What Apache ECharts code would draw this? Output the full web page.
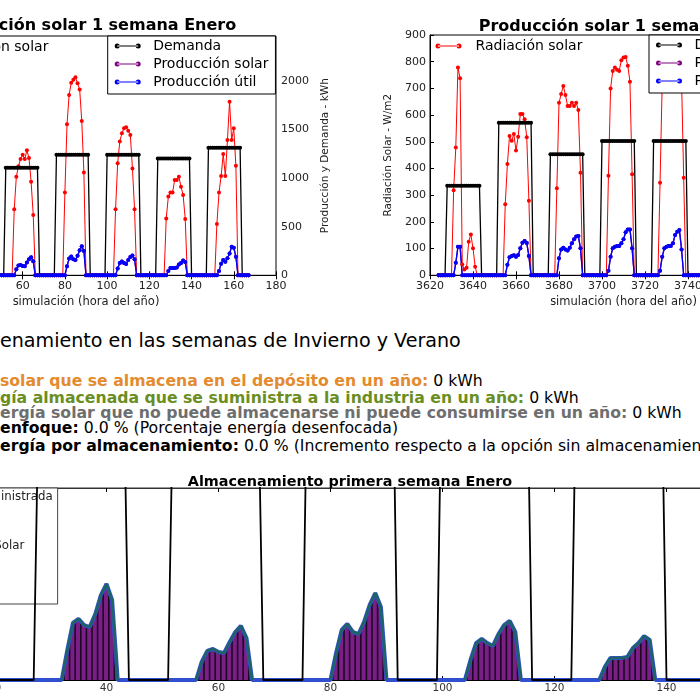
<!DOCTYPE html>
<html><head><meta charset="utf-8">
<script src="https://cdn.jsdelivr.net/npm/echarts/dist/echarts.min.js"></script>
<style>
html,body{margin:0;padding:0;width:700px;height:700px;overflow:hidden;background:#fff;position:relative;font-family:"DejaVu Sans",sans-serif;}
.chart{position:absolute;}
.ln{position:absolute;left:0;white-space:nowrap;font-size:15.7px;line-height:16px;color:#000;}
.hd{font-size:19.1px;line-height:22px;}
</style></head><body>
<div id="enero" class="chart" style="left:-180px;top:0;width:560px;height:310px"></div>
<div id="junio" class="chart" style="left:350px;top:0;width:520px;height:310px"></div>
<div id="texto">
 <div class="ln hd" style="top:330px"><span class="pre">Almac</span>enamiento en las semanas de Invierno y Verano</div>
 <div class="ln" style="top:373px"><b style="color:#e38b2e"><span class="pre">Energía </span>solar que se almacena en el depósito en un año:</b> 0 kWh</div>
 <div class="ln" style="top:390px"><b style="color:#6b8e23"><span class="pre">Ener</span>gía almacenada que se suministra a la industria en un año:</b> 0 kWh</div>
 <div class="ln" style="top:405px"><b style="color:#6e6e6e"><span class="pre">En</span>ergía solar que no puede almacenarse ni puede consumirse en un año:</b> 0 kWh</div>
 <div class="ln" style="top:420px"><b><span class="pre">Des</span>enfoque:</b> 0.0 % (Porcentaje energía desenfocada)</div>
 <div class="ln" style="top:438px"><b><span class="pre">Ganancia de en</span>ergía por almacenamiento:</b> 0.0 % (Incremento respecto a la opción sin almacenamiento)</div>
</div>
<div id="almac" class="chart" style="left:-200px;top:460px;width:1100px;height:240px"></div>
<script>
// ---------------- DATA ----------------
// Semana de enero (hora del año). Demanda y producción útil desde la hora 20.
const horaInicioEnero = 20;
const demandaEnero = [
  0,0,0,0,
  0,0,0,0,1105,1105,1105,1105,1105,1105,1105,1105,1105,1105,1105,1105,1105,1105,1105,1105,0,0,0,0,
  0,0,0,0,1105,1105,1105,1105,1105,1105,1105,1105,1105,1105,1105,1105,1105,1105,1105,1105,0,0,0,0,
  0,0,0,0,1240,1240,1240,1240,1240,1240,1240,1240,1240,1240,1240,1240,1240,1240,1240,1240,0,0,0,0,
  0,0,0,0,1240,1240,1240,1240,1240,1240,1240,1240,1240,1240,1240,1240,1240,1240,1240,1240,0,0,0,0,
  0,0,0,0,1200,1200,1200,1200,1200,1200,1200,1200,1200,1200,1200,1200,1200,1200,1200,1200,0,0,0,0,
  0,0,0,0,1310,1310,1310,1310,1310,1310,1310,1310,1310,1310,1310,1310,1310,1310,1310,1310,0,0,0,0
];
const utilEnero = [
  0,0,0,0,
  0,0,0,0,0,0,0,0,0,103,196,210,189,182,227,292,330,275,0,0,0,0,0,0,
  0,0,0,0,0,0,0,0,0,62,100,107,96,93,131,165,186,144,0,0,0,0,0,0,
  0,0,0,0,0,0,0,0,0,93,172,193,165,158,200,258,299,251,0,0,0,0,0,0,
  0,0,0,0,0,0,0,0,0,69,127,141,127,117,158,189,203,165,0,0,0,0,0,0,
  0,0,0,0,0,0,0,0,0,45,76,76,76,79,110,127,151,138,0,0,0,0,0,0,
  0,0,0,0,0,0,0,0,0,45,120,157,140,175,225,294,283,191,0,0,0,0,0,0
];
const horaInicioRadEnero = 48;
const radiacionEnero = [
  0,0,0,0,0,0,0,0,248,371,410,437,453,437,470,441,352,227,0,0,0,0,0,0,
  0,0,0,0,0,0,0,0,311,568,678,724,735,745,722,699,580,387,0,0,0,0,0,0,
  0,0,0,0,0,0,0,0,248,421,503,534,553,557,544,528,402,248,0,0,0,0,0,0,
  0,0,0,0,0,0,0,0,214,296,311,311,358,358,371,333,302,212,0,0,0,0,0,0,
  0,0,0,0,0,0,0,0,193,311,373,456,373,509,653,509,553,412,0,0,0,0,0,0
];
// Semana de junio
const horaInicioJunio = 3624;
const radiacionJunio = [
  0,0,0,0,0,0,0,319,479,778,738,40,22,28,126,153,101,32,0,0,0,0,0,0,
  0,0,0,0,0,0,0,266,417,522,504,529,467,519,604,604,584,517,279,0,0,0,0,0,
  0,0,0,0,0,0,0,326,646,679,709,675,634,634,646,634,646,619,384,0,0,0,0,0,
  0,0,0,0,0,0,0,373,700,765,778,770,765,805,816,818,785,725,378,0,0,0,0,0,
  0,0,0,0,0,0,0,347,720,790,805,800,810,830,840,830,800,730,365,0,0,0,0,0,
  0,0,0,0
];
const demandaJunio = [
  0,0,0,0,918,918,918,918,918,918,918,918,918,918,918,918,918,918,918,918,0,0,0,0,
  0,0,0,0,1561,1561,1561,1561,1561,1561,1561,1561,1561,1561,1561,1561,1561,1561,1561,1561,0,0,0,0,
  0,0,0,0,1238,1238,1238,1238,1238,1238,1238,1238,1238,1238,1238,1238,1238,1238,1238,1238,0,0,0,0,
  0,0,0,0,1375,1375,1375,1375,1375,1375,1375,1375,1375,1375,1375,1375,1375,1375,1375,1375,0,0,0,0,
  0,0,0,0,1375,1375,1375,1375,1375,1375,1375,1375,1375,1375,1375,1375,1375,1375,1375,1375,0,0,0,0,
  0,0,0,0
];
const utilJunio = [
  0,0,0,0,0,0,0,0,128,292,292,0,0,0,0,0,0,0,0,0,0,0,0,0,
  0,0,0,0,0,0,0,0,107,186,197,205,191,208,276,333,350,331,197,0,0,0,0,0,
  0,0,0,0,0,0,0,0,175,265,282,265,254,282,328,369,396,402,276,0,0,0,0,0,
  0,0,0,0,0,0,0,46,191,276,292,301,301,328,369,440,470,470,276,0,0,0,0,0,
  0,0,0,0,0,0,0,46,191,276,292,301,301,328,413,445,465,265,0,0,0,0,0,0,
  0,0,0,0
];
// ---------------- HELPERS ----------------
const FONT = 'DejaVu Sans';
function pares(inicio, valores) { return valores.map((v, i) => [inicio + i, v]); }
const iconLinea = 'path://M2.5,2h21v1h-21z M0,2.5a2.5,2.5 0 1,0 5,0a2.5,2.5 0 1,0 -5,0z M21,2.5a2.5,2.5 0 1,0 5,0a2.5,2.5 0 1,0 -5,0z';
const fmt = v => String(v);

function serieLinea(name, color, data, yIdx, width) {
  return {name, type:'line', data, yAxisIndex:yIdx, symbol:'circle', symbolSize:4,
    lineStyle:{color, width}, itemStyle:{color}, clip:true, z:2};
}
function xEjes(min, max) {
  const base = {type:'value', min, max, interval:20, splitLine:{show:false},
    axisLine:{show:true, lineStyle:{color:'#000', width:1}},
    axisTick:{show:true, inside:true, length:4, lineStyle:{color:'#000'}}};
  return [
    Object.assign({}, base, {position:'bottom',
      name:'simulación (hora del año)', nameLocation:'middle', nameGap:19,
      nameTextStyle:{fontFamily:FONT, fontSize:11.5, color:'#222'},
      axisLabel:{show:true, margin:5, fontFamily:FONT, fontSize:11, color:'#222', formatter:fmt}}),
    Object.assign({}, base, {position:'top', axisLabel:{show:false}})
  ];
}
function yEjes() {
  return [
    {type:'value', min:0, max:900, interval:100, position:'left', splitLine:{show:false},
      axisLine:{show:true, lineStyle:{color:'#000'}}, axisTick:{show:true, inside:true, length:4, lineStyle:{color:'#000'}},
      axisLabel:{margin:4, fontFamily:FONT, fontSize:11, color:'#222', formatter:fmt},
      name:'Radiación Solar - W/m2', nameLocation:'middle', nameRotate:90, nameGap:35,
      nameTextStyle:{fontFamily:FONT, fontSize:10.5, color:'#222'}},
    {type:'value', min:0, max:2460, interval:500, position:'right', splitLine:{show:false},
      axisLine:{show:true, lineStyle:{color:'#000'}}, axisTick:{show:true, inside:true, length:4, lineStyle:{color:'#000'}},
      axisLabel:{margin:5, fontFamily:FONT, fontSize:11, color:'#222', formatter:fmt, showMaxLabel:false},
      name:'Producción y Demanda - kWh', nameLocation:'middle', nameRotate:90, nameGap:41,
      nameTextStyle:{fontFamily:FONT, fontSize:10.5, color:'#222'}}
  ];
}
function leyendas(leftRad, topRad, leftBox, topBox) {
  const ts = {fontFamily:FONT, fontSize:14, lineHeight:14, color:'#000'};
  return [
    {data:['Radiación solar'], orient:'vertical', left:leftRad, top:topRad, padding:0,
      icon:iconLinea, itemWidth:26, itemHeight:5, selectedMode:false,
      textStyle:Object.assign({padding:[0,0,0,9]}, ts)},
    {data:['Demanda','Producción solar','Producción útil'], orient:'vertical', left:leftBox, top:topBox,
      padding:[3,7,5,7], itemGap:4, icon:iconLinea, itemWidth:26, itemHeight:5, selectedMode:false,
      borderColor:'#000', borderWidth:1, backgroundColor:'#fff', borderRadius:0,
      textStyle:Object.assign({padding:[0,0,0,7.5]}, ts)}
  ];
}
function opcionesProduccion(cfg) {
  return {
    animation:false,
    textStyle:{fontFamily:FONT},
    grid:{left:cfg.gl, top:cfg.gt, width:cfg.gw, height:cfg.gh, show:true, borderColor:'#000', borderWidth:1,
      containLabel:false, outerBoundsMode:'none'},
    graphic:[{type:'text', x:cfg.tx, y:cfg.ty, silent:true,
      style:{text:cfg.titulo, x:0, y:0, font:'bold 16px "DejaVu Sans"', fill:'#000',
        textAlign:'center', textVerticalAlign:'middle', align:'center', verticalAlign:'middle'}}],
    xAxis:xEjes(cfg.xmin, cfg.xmax),
    yAxis:yEjes(),
    legend:leyendas(cfg.lr, cfg.tr, cfg.lb, cfg.tb),
    series:[
      serieLinea('Radiación solar', '#ff0000', cfg.rad, 0, 1),
      serieLinea('Demanda', '#000000', cfg.dem, 1, 1.3),
      serieLinea('Producción solar', '#800080', cfg.util, 1, 1.3),
      serieLinea('Producción útil', '#0000ff', cfg.util, 1, 1.3)
    ]
  };
}
// ---------------- CHART 1: ENERO ----------------
const cE = echarts.init(document.getElementById('enero'), null, {renderer:'canvas'});
cE.setOption(opcionesProduccion({
  gl:76, gt:36, gw:380, gh:239.3, xmin:0, xmax:180,
  tx:266, ty:26, titulo:'Producción solar 1 semana Enero',
  lr:81.5, tr:40, lb:287.7, tb:36,
  rad:pares(horaInicioRadEnero, radiacionEnero),
  dem:pares(horaInicioEnero, demandaEnero),
  util:pares(horaInicioEnero, utilEnero)
}));
// ---------------- CHART 2: JUNIO ----------------
const cJ = echarts.init(document.getElementById('junio'), null, {renderer:'canvas'});
cJ.setOption(opcionesProduccion({
  gl:80, gt:35, gw:387, gh:240.3, xmin:3620, xmax:3800,
  tx:275.5, ty:27, titulo:'Producción solar 1 semana Junio',
  lr:85.5, tr:39, lb:299, tb:35,
  rad:pares(horaInicioJunio, radiacionJunio),
  dem:pares(horaInicioJunio, demandaJunio),
  util:pares(horaInicioJunio, utilJunio)
}));
// ---------------- CHART 3: ALMACENAMIENTO ----------------
const patron = document.createElement('canvas');
patron.width = 28; patron.height = 8;
(function(){
  const g = patron.getContext('2d');
  g.fillStyle = '#7a1f86'; g.fillRect(0, 0, 28, 8);
  g.strokeStyle = '#1c0822'; g.lineWidth = 1.6;
  for (let k = 0; k < 5; k++) { const x = 0.8 + 5.6 * k; g.beginPath(); g.moveTo(x, 0); g.lineTo(x, 8); g.stroke(); }
})();
const suministrada = utilEnero.map((v, i) => {
  const diurno = v > 0 || (utilEnero[i - 1] || 0) > 0 || (utilEnero[i + 1] || 0) > 0;
  return [horaInicioEnero + i, diurno ? v : null];
});
const cA = echarts.init(document.getElementById('almac'), null, {renderer:'canvas'});
cA.setOption({
  animation:false,
  textStyle:{fontFamily:FONT},
  grid:{left:82.5, top:28, width:940.8, height:192, show:true, borderColor:'#333', borderWidth:1,
    containLabel:false, outerBoundsMode:'none'},
  graphic:[{type:'text', x:550, y:22, silent:true,
    style:{text:'Almacenamiento primera semana Enero', x:0, y:0, font:'bold 14.4px "DejaVu Sans"', fill:'#000',
      textAlign:'center', textVerticalAlign:'middle', align:'center', verticalAlign:'middle'}}],
  xAxis:[
    {type:'value', min:0, max:168, interval:20, position:'bottom', splitLine:{show:false},
      axisLine:{show:true, lineStyle:{color:'#000'}}, axisTick:{show:true, inside:true, length:4, lineStyle:{color:'#000'}},
      axisLabel:{margin:3, fontFamily:FONT, fontSize:10.5, color:'#333', formatter:fmt, showMaxLabel:false}},
    {type:'value', min:0, max:168, interval:20, position:'top', splitLine:{show:false},
      axisLine:{show:true, lineStyle:{color:'#333'}}, axisTick:{show:true, inside:true, length:4, lineStyle:{color:'#000'}},
      axisLabel:{show:false}}
  ],
  yAxis:{type:'value', min:0, max:660, splitLine:{show:false}, axisLine:{show:true, lineStyle:{color:'#000'}},
    axisTick:{show:false}, axisLabel:{show:false}},
  legend:{data:['Energía Suministrada','Producción Solar','Demanda'], orient:'vertical', left:88, top:28,
    padding:[3,5,3,8], itemGap:37, itemWidth:24, itemHeight:12, selectedMode:false,
    borderColor:'#444', borderWidth:1, backgroundColor:'#fff', borderRadius:0,
    textStyle:{fontFamily:FONT, fontSize:11.8, lineHeight:12, color:'#222'}},
  series:[
    {name:'Producción Solar', type:'line', data:pares(horaInicioEnero, utilEnero), showSymbol:false, symbol:'none',
      lineStyle:{color:'#3050d0', width:4}, itemStyle:{color:'#800080'},
      areaStyle:{color:{image:patron, repeat:'repeat'}, opacity:1}, z:2},
    {name:'Energía Suministrada', type:'line', data:suministrada, showSymbol:false, symbol:'none', connectNulls:false,
      lineStyle:{color:'#1e6464', width:2.5}, itemStyle:{color:'#1e6464'}, z:3},
    {name:'Demanda', type:'line', data:pares(horaInicioEnero, demandaEnero), showSymbol:false, symbol:'none',
      lineStyle:{color:'#000', width:1.8}, itemStyle:{color:'#000'}, z:4, clip:true}
  ]
});
// ---------------- TEXT CROPPING ----------------
function ajustarTexto() {
  document.querySelectorAll('.ln').forEach(el => {
    const p = el.querySelector('.pre');
    el.style.left = (-p.getBoundingClientRect().width) + 'px';
  });
}
ajustarTexto();
if (document.fonts && document.fonts.ready) document.fonts.ready.then(ajustarTexto);
</script>
</body></html>
